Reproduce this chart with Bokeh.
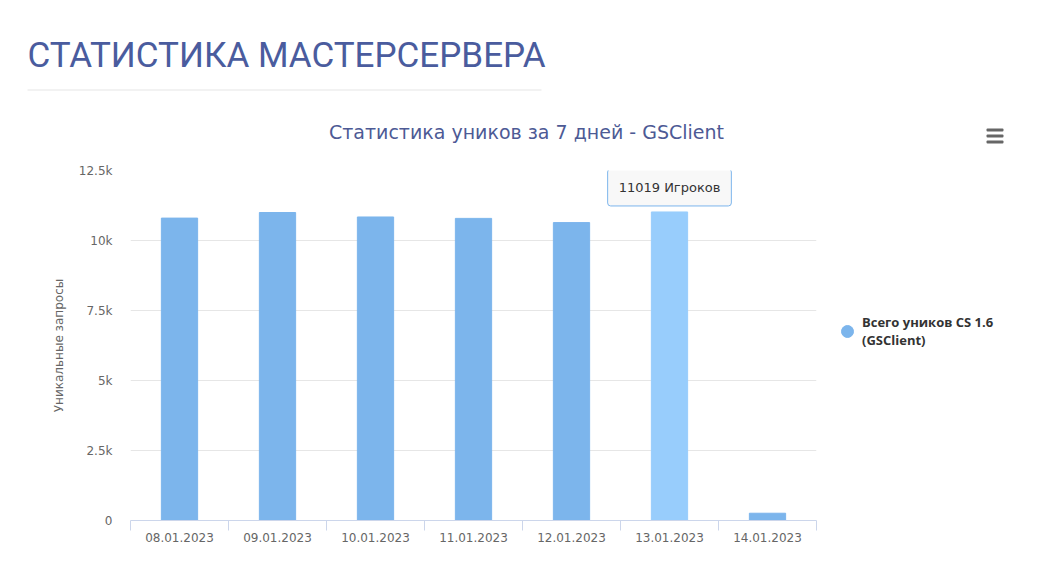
import numpy as np
from bokeh.plotting import figure
from bokeh.layouts import column, row
from bokeh.models import (Label, BoxAnnotation, Legend, LegendItem, FixedTicker,
                          ColumnDataSource, Range1d)
from bokeh.embed import file_html
from bokeh.resources import INLINE

# ---------------- data ----------------
dates = ["08.01.2023", "09.01.2023", "10.01.2023", "11.01.2023",
         "12.01.2023", "13.01.2023", "14.01.2023"]
uniques = [10800, 11000, 10840, 10790, 10640, 11019, 260]
highlight_index = 5
y_ticks = [0, 2500, 5000, 7500, 10000, 12500]
y_tick_labels = ["0", "2.5k", "5k", "7.5k", "10k", "12.5k"]
page_title = "СТАТИСТИКА МАСТЕРСЕРВЕРА"
chart_title = "Статистика уников за 7 дней - GSClient"
y_axis_title = "Уникальные запросы"
series_name = "Всего уников CS 1.6\n(GSClient)"
tooltip_suffix = "Игроков"

# ---------------- layout ----------------
W = 1045
H_TOP = 160
H_MAIN = 405
W_MAIN = 826
W_LEG = W - W_MAIN

BAR = "#7cb5ec"
BAR_HOVER = "#98cdfc"


def blank(fig):
    fig.outline_line_color = None
    fig.grid.visible = False
    fig.background_fill_color = "white"
    fig.border_fill_color = "white"


# ---- header figure: pixel coordinates, frame covers whole canvas ----
head = figure(width=W, height=H_TOP, x_range=Range1d(0, W), y_range=Range1d(H_TOP, 0),
              x_axis_type=None, y_axis_type=None, output_backend="svg",
              toolbar_location=None, min_border=0, frame_align=False)
blank(head)

head.add_layout(Label(x=27, y=55, text=page_title, text_font="Roboto",
                      text_font_size="35px", text_color="#4a5c9e",
                      text_baseline="middle", text_align="left"))
head.add_layout(BoxAnnotation(left=27, right=541, top=89, bottom=90,
                              fill_color="#e6e6e6", fill_alpha=1, line_color=None))
head.add_layout(Label(x=526, y=131, text=chart_title, text_font="DejaVu Sans",
                      text_font_size="19px", text_color="#4d5a95",
                      text_baseline="middle", text_align="center"))
for top in (128, 134, 140):
    head.add_layout(BoxAnnotation(left=986, right=1003, top=top, bottom=top + 3,
                                  fill_color="#666666", fill_alpha=1, line_color=None,
                                  border_radius=1))

# ---- main chart ----
p = figure(width=W_MAIN, height=H_MAIN, x_range=Range1d(0, len(dates)),
           y_range=Range1d(0, y_ticks[-1]), output_backend="svg",
           toolbar_location=None, min_border_left=130, min_border_right=W_MAIN - 816,
           min_border_top=10, min_border_bottom=45, frame_align=False)
p.outline_line_color = None
p.background_fill_color = "white"
p.border_fill_color = "white"

x = np.arange(len(dates)) + 0.5
colors = [BAR_HOVER if i == highlight_index else BAR for i in range(len(dates))]
src = ColumnDataSource(dict(x=x, top=uniques, color=colors))
p.vbar(x="x", top="top", width=0.37, color="color", source=src)

# x axis
p.xaxis.ticker = FixedTicker(ticks=list(x), minor_ticks=list(range(len(dates) + 1)))
p.xaxis.major_label_overrides = {float(xi): d for xi, d in zip(x, dates)}
p.xaxis.major_tick_line_color = None
p.xaxis.major_tick_out = 0
p.xaxis.major_tick_in = 0
p.xaxis.minor_tick_line_color = "#ccd6eb"
p.xaxis.minor_tick_out = 10
p.xaxis.minor_tick_in = 0
p.xaxis.axis_line_color = "#ccd6eb"
p.xaxis.major_label_text_font = "DejaVu Sans"
p.xaxis.major_label_text_font_size = "12px"
p.xaxis.major_label_text_color = "#666666"
p.xaxis.major_label_standoff = 2
p.xgrid.visible = False

# y axis
p.yaxis.ticker = FixedTicker(ticks=y_ticks)
p.yaxis.major_label_overrides = dict(zip(y_ticks, y_tick_labels))
p.yaxis.axis_line_color = None
p.yaxis.major_tick_line_color = None
p.yaxis.minor_tick_line_color = None
p.yaxis.major_tick_out = 0
p.yaxis.major_tick_in = 0
p.yaxis.major_label_standoff = 18
p.yaxis.major_label_text_font = "DejaVu Sans"
p.yaxis.major_label_text_font_size = "12px"
p.yaxis.major_label_text_color = "#666666"
p.yaxis.axis_label = y_axis_title
p.yaxis.axis_label_text_font = "DejaVu Sans"
p.yaxis.axis_label_text_font_size = "12px"
p.yaxis.axis_label_text_font_style = "normal"
p.yaxis.axis_label_text_color = "#666666"
p.yaxis.axis_label_standoff = 10
p.ygrid.grid_line_color = "#e6e6e6"
p.ygrid.ticker = FixedTicker(ticks=y_ticks)

# tooltip
p.add_layout(Label(x=x[highlight_index], y=uniques[highlight_index],
                   text=f"{uniques[highlight_index]} {tooltip_suffix}",
                   text_font="DejaVu Sans", text_font_size="13px",
                   text_color="#333333", text_align="center",
                   text_baseline="bottom", y_offset=6,
                   background_fill_color="#f7f7f7", background_fill_alpha=0.9,
                   border_line_color=BAR, border_line_width=1, border_radius=3,
                   padding=11))

# ---- legend area ----
leg = figure(width=W_LEG, height=H_MAIN, x_range=Range1d(0, W_LEG), y_range=Range1d(0, H_MAIN),
             x_axis_type=None, y_axis_type=None, output_backend="svg",
             toolbar_location=None, min_border=0, frame_align=False)
blank(leg)
legend_marker = leg.scatter(x=[np.nan], y=[np.nan], size=12, color=BAR, marker="circle")
legend = Legend(items=[LegendItem(label=series_name, renderers=[legend_marker])],
                location=(832 - W_MAIN, H_TOP + H_MAIN - 349), padding=0, margin=0,
                spacing=0, glyph_width=30, glyph_height=30, label_standoff=0,
                border_line_color=None, background_fill_alpha=0,
                label_text_font="Open Sans", label_text_font_style="bold",
                label_text_font_size="13px", label_text_color="#333333")
leg.add_layout(legend, "center")

layout = column(head, row(p, leg, spacing=0), spacing=0)
open("out.html", "w").write(file_html(layout, INLINE))
